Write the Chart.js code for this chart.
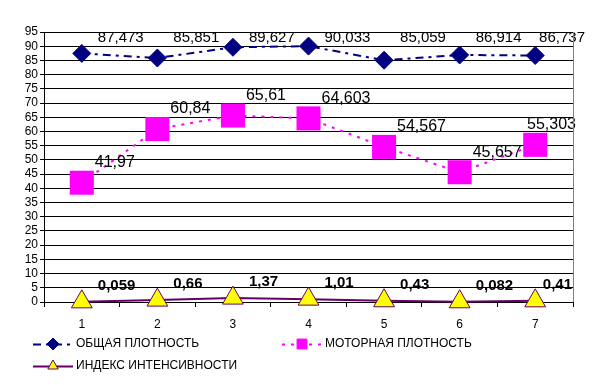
<!DOCTYPE html>
<html lang="ru">
<head>
<meta charset="UTF-8">
<title>Plot</title>
<style>
    *{ margin:0; padding:0; }
    body{ background:#fff; width:595px; height:385px; overflow:hidden; }
    .box{ width:595px; height:385px; }
</style>
</head>
<body>
<div class="box"><canvas id="chart" width="595" height="385"></canvas></div>
<script src="https://cdn.jsdelivr.net/npm/chart.js@4.4.1/dist/chart.umd.min.js"></script>
<script>
const categories = ['1', '2', '3', '4', '5', '6', '7'];
const totalDensity = [87.473, 85.851, 89.627, 90.033, 85.059, 86.914, 86.737];
const motorDensity = [41.97, 60.84, 65.61, 64.603, 54.567, 45.657, 55.303];
const intensityIndex = [0.059, 0.66, 1.37, 1.01, 0.43, 0.082, 0.41];
const seriesNames = ['ОБЩАЯ ПЛОТНОСТЬ', 'МОТОРНАЯ ПЛОТНОСТЬ', 'ИНДЕКС ИНТЕНСИВНОСТИ'];

const fmt = v => String(v).replace('.', ',');

// value labels next to each point
const labelPlugin = {
    id: 'valueLabels',
    afterDatasetsDraw(chart) {
        const ctx = chart.ctx;
        const y = chart.scales.y;
        const cfg = [
            {font: '15px "Liberation Sans", Arial', dx: 16, dy: null, maxRight: 585},
            {font: '16px "Liberation Sans", Arial', dx: 13, dy: -20, maxRight: 576},
            {font: 'bold 15px "Liberation Sans", Arial', dx: 16, dy: -16, maxRight: 572}
        ];
        ctx.save();
        ctx.fillStyle = '#000';
        ctx.textBaseline = 'middle';
        ctx.textAlign = 'left';
        chart.data.datasets.forEach((ds, i) => {
            const c = cfg[i];
            ctx.font = c.font;
            chart.getDatasetMeta(i).data.forEach((pt, j) => {
                const txt = fmt(ds.data[j]);
                const w = ctx.measureText(txt).width;
                let lx = pt.x + c.dx;
                if (lx + w > c.maxRight) lx = c.maxRight - w;
                const ly = c.dy === null ? y.getPixelForValue(93) : pt.y + c.dy;
                ctx.fillText(txt, lx, ly);
            });
        });
        ctx.restore();
    }
};

// right border of plot area + legend
const framePlugin = {
    id: 'frameLegend',
    afterDraw(chart) {
        const ctx = chart.ctx;
        const a = chart.chartArea;
        ctx.save();
        ctx.strokeStyle = '#808080';
        ctx.lineWidth = 1;
        ctx.beginPath();
        ctx.moveTo(a.right + 0.5, a.top);
        ctx.lineTo(a.right + 0.5, a.bottom);
        ctx.stroke();

        const items = [
            {x: 33, y: 344, idx: 0},
            {x: 282, y: 344, idx: 1},
            {x: 33, y: 366, idx: 2}
        ];
        ctx.font = '12px "Liberation Sans", Arial';
        ctx.textBaseline = 'middle';
        items.forEach(it => {
            const ds = chart.data.datasets[it.idx];
            ctx.strokeStyle = ds.borderColor;
            ctx.lineWidth = 2;
            ctx.setLineDash(ds.borderDash || []);
            ctx.beginPath();
            ctx.moveTo(it.x, it.y + 0.5);
            ctx.lineTo(it.x + 40, it.y + 0.5);
            ctx.stroke();
            ctx.setLineDash([]);
            ctx.fillStyle = ds.pointBackgroundColor;
            ctx.strokeStyle = ds.pointBorderColor;
            ctx.lineWidth = 1;
            Chart.helpers.drawPoint(ctx, {
                pointStyle: ds.pointStyle,
                radius: it.idx === 1 ? 7 : 6,
                borderWidth: 1
            }, it.x + 20, it.y);
            ctx.fillStyle = '#000';
            ctx.fillText(seriesNames[it.idx], it.x + 43, it.y);
        });
        ctx.restore();
    }
};

new Chart(document.getElementById('chart'), {
    type: 'line',
    data: {
        labels: categories,
        datasets: [{
            label: seriesNames[0],
            data: totalDensity,
            borderColor: '#000080',
            borderWidth: 2,
            borderDash: [8, 5, 3, 5],
            pointStyle: 'rectRot',
            pointRadius: 9,
            pointBackgroundColor: '#000080',
            pointBorderColor: '#000080',
            pointBorderWidth: 1,
            tension: 0
        }, {
            label: seriesNames[1],
            data: motorDensity,
            borderColor: '#FF00FF',
            borderWidth: 2,
            borderDash: [3, 6],
            pointStyle: 'rect',
            pointRadius: 17,
            pointBackgroundColor: '#FF00FF',
            pointBorderColor: '#FF00FF',
            pointBorderWidth: 0,
            tension: 0
        }, {
            label: seriesNames[2],
            data: intensityIndex,
            borderColor: '#660066',
            borderWidth: 2,
            pointStyle: 'triangle',
            pointRadius: 12,
            pointBackgroundColor: '#FFFF00',
            pointBorderColor: '#660066',
            pointBorderWidth: 1,
            tension: 0
        }]
    },
    options: {
        responsive: false,
        animation: false,
        clip: false,
        layout: { padding: { top: 32, right: 22, left: 0, bottom: 0 } },
        plugins: {
            legend: { display: false },
            tooltip: { enabled: false }
        },
        scales: {
            x: {
                offset: true,
                afterFit(scale) { scale.height = 83; },
                grid: { offset: true, drawOnChartArea: false, color: '#000', tickLength: 5 },
                border: { color: '#000', width: 1 },
                ticks: {
                    color: '#000',
                    padding: 10,
                    font: { family: '"Liberation Sans", Arial', size: 12 }
                }
            },
            y: {
                min: 0,
                max: 95,
                afterFit(scale) { scale.width = 44; },
                ticks: {
                    stepSize: 5,
                    autoSkip: false,
                    color: '#000',
                    padding: 2,
                    font: { family: '"Liberation Sans", Arial', size: 12 }
                },
                grid: { color: '#000', lineWidth: 1, tickLength: 4 },
                border: { color: '#000', width: 1 }
            }
        }
    },
    plugins: [labelPlugin, framePlugin]
});
</script>
</body>
</html>
